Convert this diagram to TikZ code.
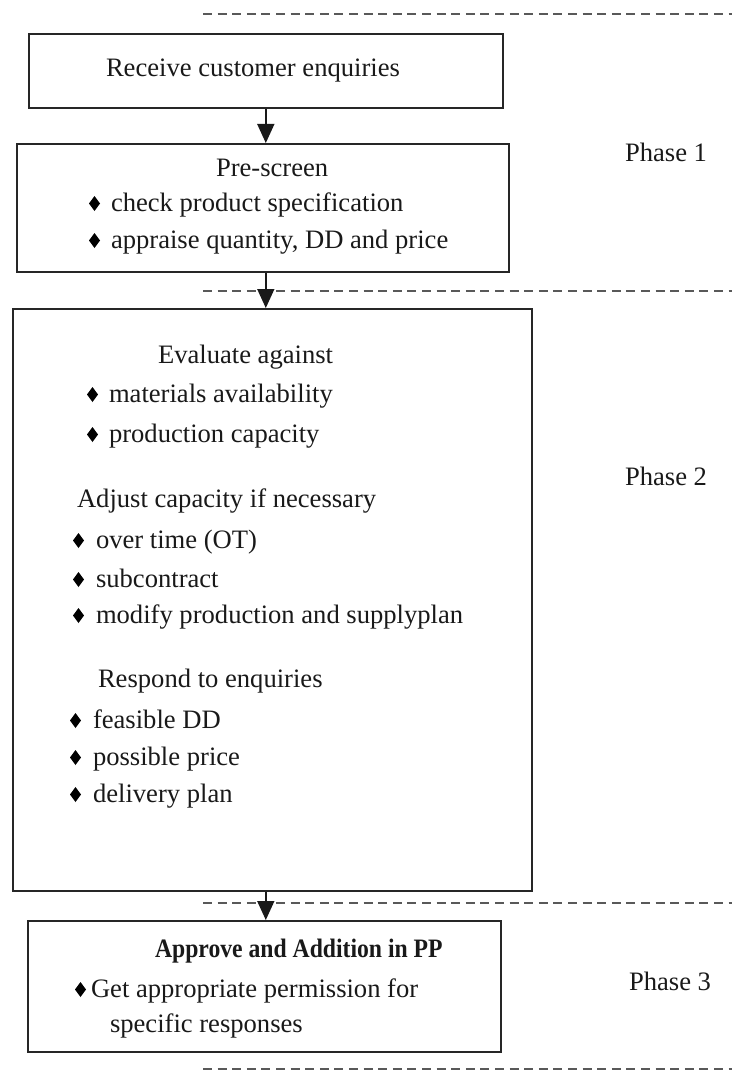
\documentclass[tikz,border=0pt]{standalone}
\usepackage{fontspec}
\setmainfont{Liberation Serif}
\usetikzlibrary{arrows.meta}

% small filled diamond used as the list bullet
\newcommand{\dmd}{\tikz[baseline=0pt]\fill[black] (5.5pt,0pt) -- (11pt,7.5pt) -- (5.5pt,15pt) -- (0pt,7.5pt) -- cycle;}

\begin{document}
\begin{tikzpicture}[x=1pt,y=-1pt,
  stagebox/.style={draw=black!85, line width=1.6pt, anchor=north west, inner sep=0pt},
  txt/.style={anchor=base west, inner sep=0pt, outer sep=0pt, text=black!90,
              font=\fontsize{26.6pt}{32pt}\selectfont},
  phaseline/.style={draw=black!65, line width=1.4pt, dash pattern=on 9pt off 5.6pt},
  flow/.style={draw=black!90, line width=1.5pt, -{Triangle[width=17pt,length=19pt]}}]

\useasboundingbox (0,0) rectangle (732,1070);

% phase separators
\draw[phaseline] (203,14) -- (732,14);
\draw[phaseline] (203,291) -- (732,291);
\draw[phaseline] (203,903) -- (732,903);
\draw[phaseline] (203,1069) -- (732,1069);

% stage boxes
\node[stagebox, minimum width=474pt, minimum height=74pt]  (b1) at (28,33) {};
\node[stagebox, minimum width=492pt, minimum height=128pt] (b2) at (16,143) {};
\node[stagebox, minimum width=519pt, minimum height=582pt] (b3) at (12,308) {};
\node[stagebox, minimum width=473pt, minimum height=131pt] (b4) at (27,920) {};

% flow arrows
\draw[flow] (b1.south) -- (b1.south |- b2.north);
\draw[flow] (b1.south |- b2.south) -- (b1.south |- b3.north);
\draw[flow] (b1.south |- b3.south) -- (b1.south |- b4.north);

% box 1
\node[txt] (t1) at (106,77) {Receive customer enquiries};

% box 2
\node[txt] (t2) at (216,176) {Pre-screen};
\node[txt] (t2a) at (89,211) {\dmd\hspace{11pt}check product specification};
\node[txt] (t2b) at (89,248) {\dmd\hspace{11pt}appraise quantity, DD and price};

% box 3
\node[txt] (t3) at (158,363) {Evaluate against};
\node[txt] (t3a) at (87,402) {\dmd\hspace{11pt}materials availability};
\node[txt] (t3b) at (87,442) {\dmd\hspace{11pt}production capacity};
\node[txt] (t3c) at (77,507) {Adjust capacity if necessary};
\node[txt] (t3d) at (73,548) {\dmd\hspace{12pt}over time (OT)};
\node[txt] (t3e) at (73,587) {\dmd\hspace{12pt}subcontract};
\node[txt] (t3f) at (73,623) {\dmd\hspace{12pt}modify production and supplyplan};
\node[txt] (t3g) at (98,687) {Respond to enquiries};
\node[txt] (t3h) at (70,728) {\dmd\hspace{12pt}feasible DD};
\node[txt] (t3i) at (70,765) {\dmd\hspace{12pt}possible price};
\node[txt] (t3j) at (70,802) {\dmd\hspace{12pt}delivery plan};

% box 4
\node[txt] (t4) at (155,957) {\scalebox{0.89}[1]{\bfseries Approve and Addition in PP}};
\node[txt] (t4a) at (75,997) {\dmd\hspace{5pt}Get appropriate permission for};
\node[txt] (t4b) at (110,1032) {specific responses};

% phase labels
\node[txt] (p1) at (625,161) {Phase 1};
\node[txt] (p2) at (625,485) {Phase 2};
\node[txt] (p3) at (629,990) {Phase 3};

\end{tikzpicture}
\end{document}
